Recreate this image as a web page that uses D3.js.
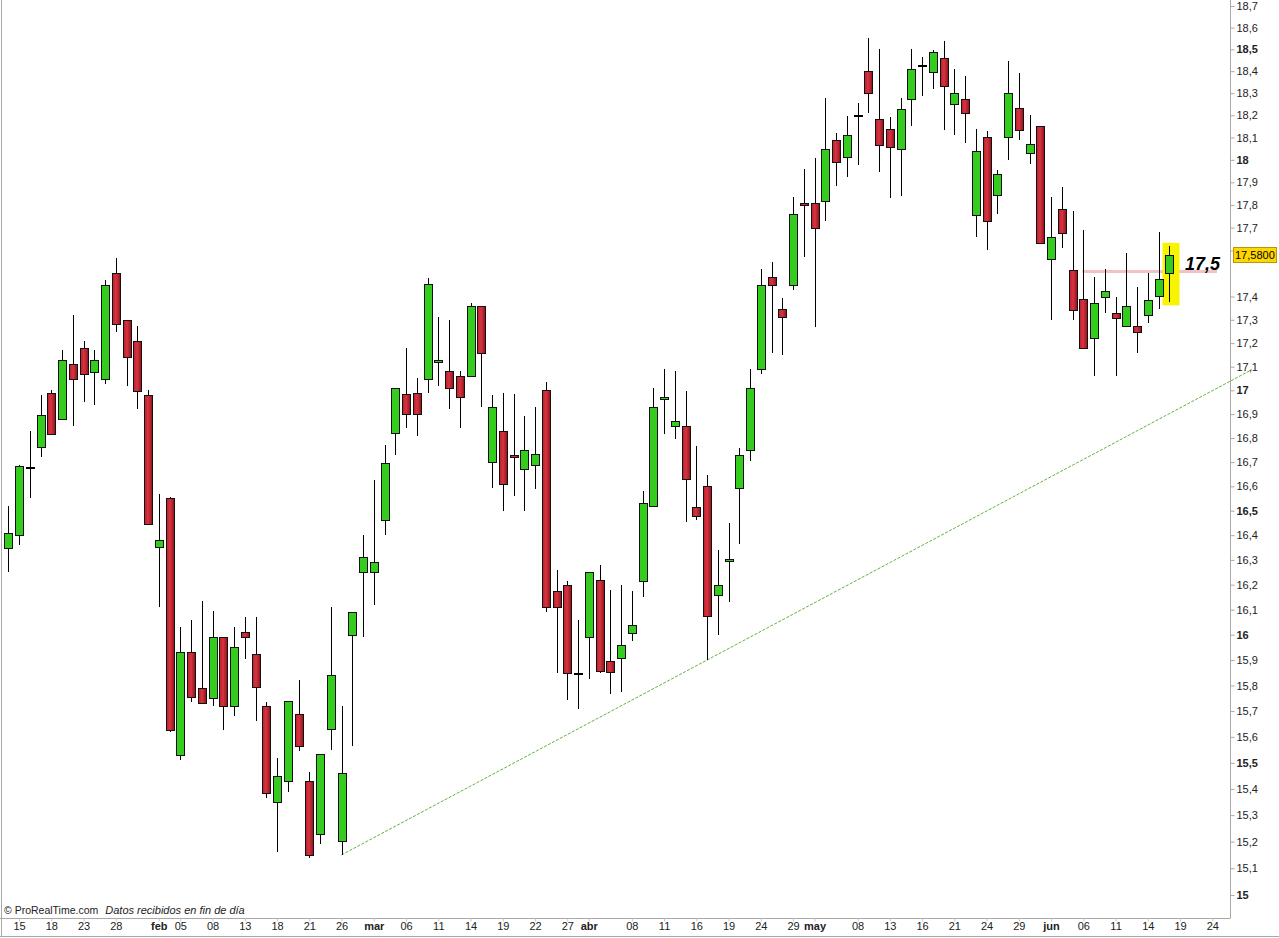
<!DOCTYPE html>
<html><head><meta charset="utf-8">
<script src="https://cdn.jsdelivr.net/npm/d3@7"></script>
<style>
body{margin:0;background:#fff;}
svg{display:block;font-family:"Liberation Sans",Arial,sans-serif;}
</style>
</head><body>
<svg id="chart" width="1279" height="938"></svg>
<script>
// ---- DATA ----
const dates = [
"2013-01-14","2013-01-15","2013-01-16","2013-01-17","2013-01-18","2013-01-21","2013-01-22","2013-01-23","2013-01-24","2013-01-25","2013-01-28","2013-01-29","2013-01-30","2013-01-31",
"2013-02-01","2013-02-04","2013-02-05","2013-02-06","2013-02-07","2013-02-08","2013-02-11","2013-02-12","2013-02-13","2013-02-14","2013-02-15","2013-02-18","2013-02-19","2013-02-20","2013-02-21","2013-02-22","2013-02-25","2013-02-26","2013-02-27","2013-02-28",
"2013-03-01","2013-03-04","2013-03-05","2013-03-06","2013-03-07","2013-03-08","2013-03-11","2013-03-12","2013-03-13","2013-03-14","2013-03-15","2013-03-18","2013-03-19","2013-03-20","2013-03-21","2013-03-22","2013-03-25","2013-03-26","2013-03-27","2013-03-28",
"2013-04-02","2013-04-03","2013-04-04","2013-04-05","2013-04-08","2013-04-09","2013-04-10","2013-04-11","2013-04-12","2013-04-15","2013-04-16","2013-04-17","2013-04-18","2013-04-19","2013-04-22","2013-04-23","2013-04-24","2013-04-25","2013-04-26","2013-04-29","2013-04-30",
"2013-05-02","2013-05-03","2013-05-06","2013-05-07","2013-05-08","2013-05-09","2013-05-10","2013-05-13","2013-05-14","2013-05-15","2013-05-16","2013-05-17","2013-05-20","2013-05-21","2013-05-22","2013-05-23","2013-05-24","2013-05-27","2013-05-28","2013-05-29","2013-05-30","2013-05-31",
"2013-06-03","2013-06-04","2013-06-05","2013-06-06","2013-06-07","2013-06-10","2013-06-11","2013-06-12","2013-06-13","2013-06-14","2013-06-17","2013-06-18",
"2013-06-19","2013-06-20","2013-06-21","2013-06-24","2013-06-25"
];
const opens = [16.35,16.40,16.68,16.76,16.99,16.88,17.11,17.18,17.08,17.05,17.50,17.30,17.21,16.98,
16.35,16.55,15.53,15.93,15.79,15.75,15.99,15.72,16.01,15.925,15.72,15.35,15.43,15.69,15.43,15.23,15.63,15.20,16.00,16.25,
16.25,16.46,16.82,16.985,16.99,17.05,17.12,17.08,17.06,17.06,17.36,16.70,16.83,16.73,16.67,16.69,17.00,16.175,16.20,15.85,
15.99,16.22,15.895,15.91,16.01,16.215,16.52,16.96,16.85,16.85,16.515,16.60,16.16,16.30,16.595,16.75,17.09,17.485,17.345,17.45,17.81,
17.81,17.82,18.09,18.01,18.20,18.40,18.185,18.14,18.05,18.275,18.43,18.40,18.46,18.25,18.275,17.755,18.10,17.84,18.10,18.235,18.03,18.15,
17.565,17.78,17.515,17.39,17.22,17.40,17.33,17.275,17.275,17.32,17.40,17.50];
const highs = [16.52,16.69,16.83,16.98,17.00,17.17,17.32,17.21,17.17,17.47,17.565,17.30,17.275,17.00,
16.57,16.555,16.03,16.06,16.135,16.095,15.99,16.03,16.07,16.07,15.735,15.52,15.74,15.82,15.465,15.535,16.11,15.72,16.09,16.40,
16.625,16.77,17.01,17.18,17.05,17.48,17.31,17.30,17.08,17.37,17.36,16.98,16.99,16.985,16.89,16.93,17.035,16.26,16.215,16.06,
16.25,16.28,16.18,16.20,16.175,16.58,17.01,17.09,17.08,16.995,16.765,16.645,16.34,16.45,16.76,17.09,17.52,17.55,17.395,17.835,17.96,
18.01,18.28,18.12,18.195,18.255,18.55,18.50,18.19,18.28,18.50,18.465,18.495,18.54,18.41,18.38,18.14,18.13,17.955,18.445,18.39,18.20,18.15,
17.835,17.88,17.775,17.69,17.485,17.52,17.40,17.59,17.44,17.50,17.68,17.62];
const lows = [16.25,16.36,16.55,16.72,16.82,16.88,16.85,16.95,16.94,17.025,17.247,17.02,16.92,16.445,
16.11,15.62,15.51,15.735,15.73,15.72,15.625,15.68,15.905,15.66,15.365,15.16,15.39,15.545,15.14,15.19,15.55,15.15,15.565,15.99,
16.12,16.40,16.73,16.84,16.81,16.99,17.02,16.92,16.84,17.06,16.93,16.595,16.50,16.56,16.50,16.59,16.09,15.85,15.745,15.71,
15.825,15.85,15.765,15.775,15.975,16.15,16.52,16.815,16.795,16.455,16.46,15.90,16.00,16.13,16.365,16.705,17.07,17.16,17.15,17.43,17.57,
17.27,17.73,17.885,17.925,17.975,18.21,17.945,17.83,17.84,18.15,18.285,18.32,18.135,18.11,18.075,17.66,17.60,17.76,18.00,18.09,17.98,17.63,
17.30,17.61,17.30,17.175,17.06,17.33,17.06,17.275,17.16,17.285,17.345,17.375];
const closes = [16.41,16.685,16.68,16.895,16.82,17.13,17.045,17.07,17.13,17.45,17.28,17.14,17.00,16.445,
16.38,15.625,15.93,15.755,15.73,15.99,15.72,15.95,15.99,15.795,15.385,15.45,15.74,15.565,15.15,15.535,15.84,15.46,16.09,16.31,
16.29,16.695,17.01,16.90,16.90,17.455,17.13,17.01,16.97,17.36,17.16,16.93,16.61,16.72,16.75,16.735,16.11,16.11,15.85,15.85,
16.25,15.86,15.85,15.96,16.04,16.53,16.93,16.97,16.87,16.63,16.48,16.075,16.20,16.305,16.73,17.01,17.45,17.45,17.31,17.76,17.80,
17.70,18.05,17.99,18.11,18.20,18.30,18.07,18.06,18.23,18.41,18.43,18.49,18.33,18.30,18.21,18.04,17.725,17.935,18.30,18.135,18.07,17.63,
17.66,17.675,17.34,17.18,17.37,17.425,17.31,17.36,17.25,17.385,17.475,17.58];

const yTicks = [15,15.1,15.2,15.3,15.4,15.5,15.6,15.7,15.8,15.9,16,16.1,16.2,16.3,16.4,16.5,16.6,16.7,16.8,16.9,17,17.1,17.2,17.3,17.4,17.6,17.7,17.8,17.9,18,18.1,18.2,18.3,18.4,18.5,18.6,18.7];
const yBoldTicks = [15,15.5,16,16.5,17,18,18.5];
const tickDates = ["2013-01-15","2013-01-18","2013-01-23","2013-01-28","2013-02-01","2013-02-05","2013-02-08","2013-02-13","2013-02-18","2013-02-21","2013-02-26","2013-03-01","2013-03-06","2013-03-11","2013-03-14","2013-03-19","2013-03-22","2013-03-27","2013-04-02","2013-04-08","2013-04-11","2013-04-16","2013-04-19","2013-04-24","2013-04-29","2013-05-02","2013-05-08","2013-05-13","2013-05-16","2013-05-21","2013-05-24","2013-05-29","2013-06-03","2013-06-06","2013-06-11","2013-06-14","2013-06-19","2013-06-24"];
const tickLabels = ["15","18","23","28","feb","05","08","13","18","21","26","mar","06","11","14","19","22","27","abr","08","11","16","19","24","29","may","08","13","16","21","24","29","jun","06","11","14","19","24"];
const monthLabels = ["feb","mar","abr","may","jun"];
const lastPrice = 17.58;
const lastPriceText = "17,5800";
const levelPrice = 17.5;
const levelText = "17,5";
const levelFromDate = "2013-06-06";
const trendFromDate = "2013-02-26";
const trendThroughDate = "2013-04-17";
const footerA = "© ProRealTime.com";
const footerB = "Datos recibidos en fin de día";

// ---- LAYOUT ----
const W = 1279, H = 938;
const plotRight = 1230, plotBottom = 918, bandBottom = 936;
const svg = d3.select("#chart");
const fmt = v => d3.format(".1f")(v).replace(/\.0$/,"").replace(".", ",");

const idx = d => dates.indexOf(d);
const x = d3.scaleLinear().domain([0, 108]).range([8.3, 8.3 + 10.75*108]);
const y = d3.scaleLog().domain([18.7, 15]).range([6, 895]);

const defs = svg.append("defs");
const rg = defs.append("linearGradient").attr("id","redg").attr("x1","0").attr("x2","1").attr("y1","0").attr("y2","0");
rg.append("stop").attr("offset","0").attr("stop-color","#bd1f2e");
rg.append("stop").attr("offset","0.45").attr("stop-color","#d63440");
rg.append("stop").attr("offset","1").attr("stop-color","#8e1119");
defs.append("clipPath").attr("id","plotclip").append("rect").attr("x",0).attr("y",0).attr("width",plotRight).attr("height",plotBottom);

// frame
svg.append("line").attr("x1",1.5).attr("x2",1.5).attr("y1",0).attr("y2",bandBottom).attr("stroke","#a8a8a8");
svg.append("line").attr("x1",0).attr("x2",plotRight).attr("y1",plotBottom+0.5).attr("y2",plotBottom+0.5).attr("stroke","#a8a8a8");
svg.append("line").attr("x1",0).attr("x2",W).attr("y1",bandBottom+0.5).attr("y2",bandBottom+0.5).attr("stroke","#a8a8a8");

// y axis (labels hidden under the last-price box are not drawn, as in the original)
const py = y(lastPrice);
const yAxis = d3.axisRight(y).tickValues(yTicks).tickSize(4)
  .tickFormat(v => Math.abs(y(v) - py) < 11 ? "" : fmt(v));
const gy = svg.append("g").attr("transform",`translate(${plotRight+0.5},0)`).call(yAxis);
gy.select(".domain").attr("d",`M0,0V${plotBottom+0.5}`).attr("stroke","#a8a8a8");
gy.selectAll(".tick line").attr("stroke","#a8a8a8");
gy.selectAll(".tick text").attr("x",6).attr("fill","#222")
  .style("font-family","'Liberation Sans',Arial,sans-serif")
  .style("font-size","11px")
  .style("font-weight", d => yBoldTicks.includes(d) ? "bold" : "normal");

// x axis
const xAxis = d3.axisBottom(x).tickValues(tickDates.map(idx)).tickSize(3)
  .tickFormat((d,i) => tickLabels[i]);
const gx = svg.append("g").attr("transform",`translate(0,${plotBottom+0.5})`).call(xAxis);
gx.select(".domain").remove();
gx.selectAll(".tick line").attr("stroke","#c8c8c8");
gx.selectAll(".tick text").attr("y",4).attr("fill","#222")
  .style("font-family","'Liberation Sans',Arial,sans-serif")
  .style("font-size","11px")
  .style("font-weight", (d,i) => monthLabels.includes(tickLabels[i]) ? "bold" : "normal");

// footer
const ft = svg.append("text").attr("x",4).attr("y",914).attr("fill","#222");
ft.append("tspan").style("font-size","10.5px").text(footerA);
ft.append("tspan").attr("dx",7).style("font-size","11px").style("font-style","italic").text(footerB);

// plot group
const g = svg.append("g");

// trendline through two lows, extended right
const t1 = idx(trendFromDate), t2 = idx(trendThroughDate);
const p1 = [x(t1), y(lows[t1])], p2 = [x(t2), y(lows[t2])];
const slope = (p2[1]-p1[1])/(p2[0]-p1[0]);
const xEnd = 1252;
g.append("line").attr("x1",p1[0]).attr("y1",p1[1]).attr("x2",xEnd).attr("y2",p1[1]+slope*(xEnd-p1[0]))
  .attr("stroke","#62b23c").attr("stroke-width",1).attr("stroke-dasharray","3,1.5");

// level line (pink)
g.append("line").attr("x1",x(idx(levelFromDate))-1).attr("x2",1217)
  .attr("y1",y(levelPrice)-2).attr("y2",y(levelPrice)-2)
  .attr("stroke","#f3c2c4").attr("stroke-width",3);

// highlight last candle
const last = closes.length-1;
g.append("rect").attr("x",Math.round(x(last))-6.5).attr("y",y(highs[last])-3).attr("width",17)
  .attr("height",y(lows[last])-y(highs[last])+6).attr("fill","#f8f400");

// candles
const cg = g.append("g").attr("clip-path","url(#plotclip)").attr("shape-rendering","crispEdges");
const data = closes.map((c,i)=>({i,o:opens[i],h:highs[i],l:lows[i],c}));
cg.selectAll("line.wick").data(data).join("line").attr("class","wick")
  .attr("x1",d=>Math.round(x(d.i))+0.5).attr("x2",d=>Math.round(x(d.i))+0.5)
  .attr("y1",d=>y(d.h)).attr("y2",d=>y(d.l)).attr("stroke","#000").attr("stroke-width",1);
cg.selectAll("rect.body").data(data.filter(d=>d.o!==d.c)).join("rect").attr("class","body")
  .attr("x",d=>Math.round(x(d.i))-3.5).attr("width",8)
  .attr("y",d=>Math.round(y(Math.max(d.o,d.c)))+0.5)
  .attr("height",d=>Math.max(2, Math.round(y(Math.min(d.o,d.c))-y(Math.max(d.o,d.c)))))
  .attr("fill",d=>d.c>d.o ? "#36cc1f" : "url(#redg)")
  .attr("stroke","#111").attr("stroke-width",1);
cg.selectAll("line.doji").data(data.filter(d=>d.o===d.c)).join("line").attr("class","doji")
  .attr("x1",d=>Math.round(x(d.i))-4).attr("x2",d=>Math.round(x(d.i))+5)
  .attr("y1",d=>Math.round(y(d.c))+0.5).attr("y2",d=>Math.round(y(d.c))+0.5)
  .attr("stroke","#000").attr("stroke-width",2);

// level label
svg.append("text").attr("x",1185).attr("y",y(levelPrice)-3).attr("fill","#000")
  .style("font-size","18px").style("font-weight","bold").style("font-style","italic").text(levelText);

// last price box
svg.append("rect").attr("x",1233.5).attr("y",Math.round(py)-7.5).attr("width",43).attr("height",15)
  .attr("fill","#ffd600").attr("stroke","#b8960a");
svg.append("text").attr("x",1235).attr("y",Math.round(py)+4).attr("fill","#000").style("font-size","11px").text(lastPriceText);
</script>
</body></html>
